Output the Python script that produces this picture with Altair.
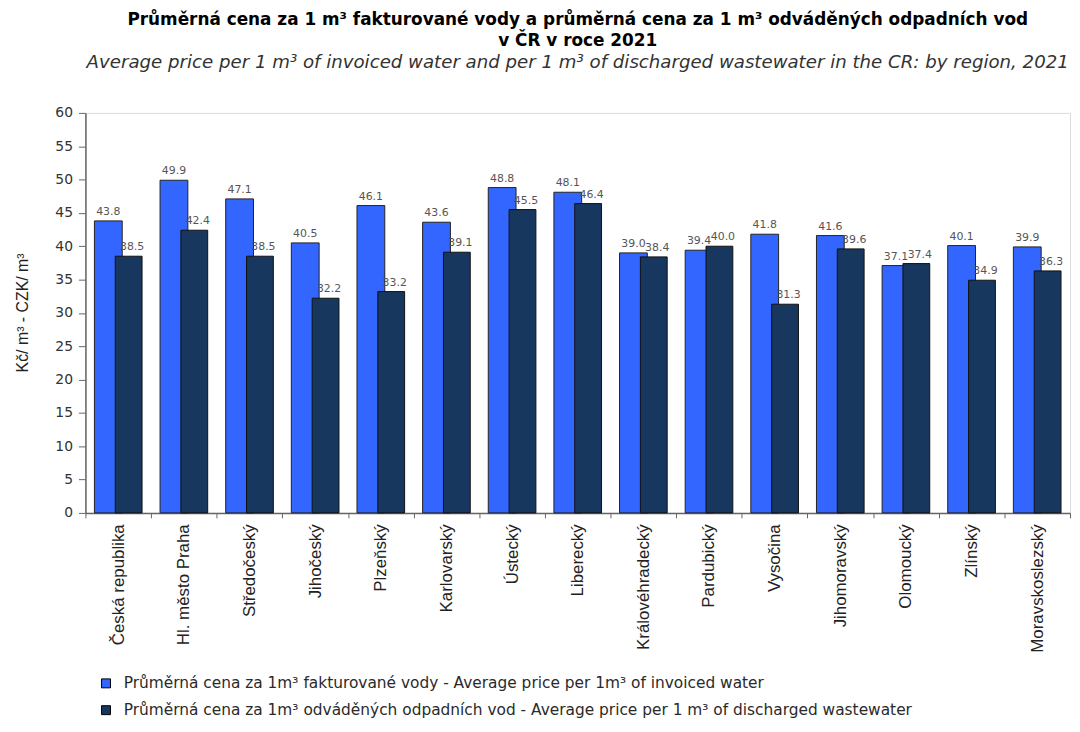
import altair as alt
import pandas as pd

regions = ["Česká republika", "Hl. město Praha", "Středočeský", "Jihočeský", "Plzeňský",
           "Karlovarský", "Ústecký", "Liberecký", "Královéhradecký", "Pardubický",
           "Vysočina", "Jihomoravský", "Olomoucký", "Zlínský", "Moravskoslezský"]
water = [43.8, 49.9, 47.1, 40.5, 46.1, 43.6, 48.8, 48.1, 39.0, 39.4, 41.8, 41.6, 37.1, 40.1, 39.9]
wastewater = [38.5, 42.4, 38.5, 32.2, 33.2, 39.1, 45.5, 46.4, 38.4, 40.0, 31.3, 39.6, 37.4, 34.9, 36.3]

s1 = "Průměrná cena za 1m³ fakturované vody  - Average price per 1m³ of invoiced water"
s2 = "Průměrná cena za 1m³ odváděných odpadních vod  -  Average price per 1 m³ of discharged wastewater"

rows = []
for r, a, b in zip(regions, water, wastewater):
    rows.append({"region": r, "series": s1, "value": a})
    rows.append({"region": r, "series": s2, "value": b})
df = pd.DataFrame(rows)

FONT = "Liberation Sans"
WIDE = "DejaVu Sans"

x = alt.X("region:N", sort=regions, title=None,
          scale=alt.Scale(paddingInner=0, paddingOuter=0),
          axis=alt.Axis(labelAngle=-90, labelAlign="right", labelBaseline="middle",
                        labelFontSize=17, labelFont=FONT, labelColor="#222", labelPadding=6,
                        tickBand="extent", tickSize=5, tickColor="#666",
                        domainColor="#666", domainWidth=1.5, labelLimit=250))
y = alt.Y("value:Q", scale=alt.Scale(domain=[0, 60], nice=False),
          axis=alt.Axis(values=list(range(0, 61, 5)), labelFontSize=14, labelFont=WIDE,
                        labelColor="#333", tickSize=7, tickColor="#666", domainColor="#666",
                        domainWidth=1.5, grid=False, labelPadding=6,
                        title="Kč/ m³ - CZK/ m³", titleFont=FONT, titleFontSize=16,
                        titleFontWeight="normal", titleColor="#222", titleAngle=-90,
                        titleX=-63, titleY=201, titleAlign="center", titleBaseline="middle"))
color = alt.Color("series:N", scale=alt.Scale(domain=[s1, s2], range=["#3366FF", "#17375E"]),
                  legend=alt.Legend(orient="none", legendX=13, legendY=567, direction="vertical",
                                    title=None, symbolType="square", symbolSize=81,
                                    symbolStrokeColor="#000", symbolStrokeWidth=1,
                                    symbolOpacity=1, labelFont=WIDE, labelFontSize=15.5,
                                    labelColor="#2a2a2a", labelLimit=0, rowPadding=10,
                                    labelOffset=10))

base = alt.Chart(df)
blue = base.transform_filter(alt.datum.series == s1).mark_bar(
    width=28, xOffset=-10, stroke="#222", strokeWidth=1).encode(x=x, y=y, color=color)
dark = base.transform_filter(alt.datum.series == s2).mark_bar(
    width=27, xOffset=10.5, stroke="#111", strokeWidth=1).encode(x=x, y=y, color=color)
blue_t = base.transform_filter(alt.datum.series == s1).mark_text(
    xOffset=-10, dy=-4, baseline="bottom", fontSize=11, font=WIDE, color="#555").encode(
    x=x, y=y, text=alt.Text("value:Q", format=".1f"))
dark_t = base.transform_filter(alt.datum.series == s2).mark_text(
    xOffset=14, dy=-4, baseline="bottom", fontSize=11, font=WIDE, color="#555").encode(
    x=x, y=y, text=alt.Text("value:Q", format=".1f"))

chart = alt.layer(blue, dark, blue_t, dark_t).properties(
    width=992, height=403,
    autosize=alt.AutoSizeParams(type="none"),
    padding={"left": 78, "top": 103, "right": 2, "bottom": 210},
    title=alt.TitleParams(
        text=["Průměrná cena za 1 m³ fakturované vody a průměrná cena za 1 m³ odváděných odpadních vod",
              "v ČR v roce 2021"],
        subtitle=["Average  price per 1 m³ of invoiced water and per 1 m³ of discharged  wastewater  in the CR: by region,  2021"],
        font=WIDE, fontSize=17, fontWeight="bold", color="#000", lineHeight=21,
        subtitleFont=WIDE, subtitleFontSize=18.3, subtitleFontStyle="italic",
        subtitleColor="#333", subtitlePadding=4, anchor="middle", offset=34)
).configure_view(stroke="#808080", strokeWidth=2).configure(background="white")

chart.save("out.html", embed_options={"renderer": "svg", "actions": False})
